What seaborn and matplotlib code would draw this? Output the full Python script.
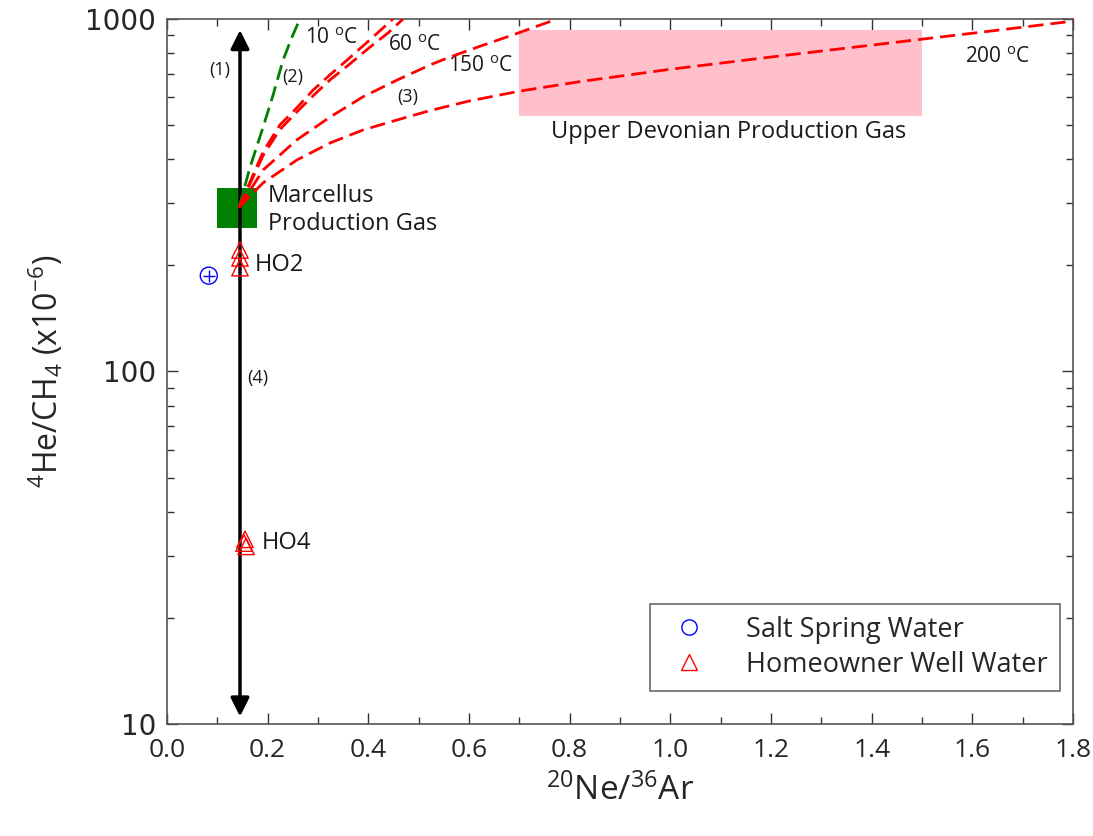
import numpy as np
import pandas as pd
import seaborn as sns
import matplotlib
matplotlib.use("Agg")
import matplotlib.pyplot as plt
from matplotlib.ticker import FixedLocator, NullFormatter, LogLocator, MultipleLocator
from matplotlib.lines import Line2D

# ---------------- data ----------------
marcellus_x = [0.14]
marcellus_y = [290]

salt_x = [0.083]
salt_y = [187]

ho2_x = [0.145, 0.145, 0.145]
ho2_y = [221, 210, 197]
ho4_x = [0.155, 0.153, 0.157]
ho4_y = [33.4, 32.6, 31.9]

green_x = [0.143, 0.165, 0.191, 0.211, 0.230, 0.247, 0.264]
green_y = [292, 380, 494, 610, 760, 880, 1000]

red_a_x = [0.143, 0.191, 0.224, 0.258, 0.290, 0.324, 0.358, 0.400, 0.449]
red_a_y = [292, 420, 500, 560, 628, 695, 765, 865, 1000]

red_b_x = [0.143, 0.191, 0.224, 0.258, 0.290, 0.324, 0.358, 0.400, 0.440, 0.469]
red_b_y = [292, 410, 485, 545, 605, 672, 735, 825, 915, 1000]

red_c_x = [0.143, 0.191, 0.258, 0.324, 0.389, 0.457, 0.523, 0.556, 0.620, 0.687, 0.775]
red_c_y = [292, 373, 454, 527, 601, 671, 741, 774, 835, 901, 1000]

red_d_x = [0.143, 0.191, 0.258, 0.324, 0.389, 0.457, 0.523, 0.600, 0.700, 0.820,
           1.000, 1.200, 1.400, 1.600, 1.800]
red_d_y = [292, 343, 398, 445, 484, 517, 550, 585, 624, 664,
           720, 780, 843, 911, 986]

box_x = [0.70, 1.50]
box_y = [530, 930]

arrow_x = 0.145
arrow_y = [10.5, 930]

# ---------------- style ----------------
sns.set_theme(style="ticks")
plt.rcParams['font.family'] = ['Open Sans', 'DejaVu Sans']
plt.rcParams['mathtext.fontset'] = 'custom'
plt.rcParams['mathtext.rm'] = 'Open Sans'
plt.rcParams['mathtext.it'] = 'Open Sans'

fig = plt.figure(figsize=(10.93, 8.36), dpi=100)
ax = fig.add_axes([0.1528, 0.134, 0.8289, 0.8433])

# pink box
ax.fill_between(box_x, [box_y[0]] * 2, [box_y[1]] * 2, color='#ffc0cb', lw=0, zorder=1)

dash = (0, (5.5, 2.5))
lw = 2.0
for xs, ys, c in [(green_x, green_y, 'green'),
                  (red_a_x, red_a_y, 'red'),
                  (red_b_x, red_b_y, 'red'),
                  (red_c_x, red_c_y, 'red'),
                  (red_d_x, red_d_y, 'red')]:
    sns.lineplot(x=xs, y=ys, ax=ax, color=c, linewidth=lw, linestyle=dash,
                 sort=False, estimator=None, zorder=4)

# vertical double arrow
ax.annotate('', xy=(arrow_x, arrow_y[1]), xytext=(arrow_x, arrow_y[0]),
            arrowprops=dict(arrowstyle='<|-|>', color='black', lw=2.5,
                            mutation_scale=28, shrinkA=0, shrinkB=0), zorder=3)

# Marcellus square
sns.scatterplot(x=marcellus_x, y=marcellus_y, ax=ax, marker='s', s=830,
                color='green', edgecolor='none', linewidth=0, zorder=2)

# Salt spring water
sns.scatterplot(x=salt_x, y=salt_y, ax=ax, marker='o', s=150,
                facecolors='none', edgecolor='blue', linewidth=1.0, zorder=5)
sns.scatterplot(x=salt_x, y=salt_y, ax=ax, marker='+', s=70,
                color='blue', linewidth=1.0, zorder=5)

# Homeowner wells
sns.scatterplot(x=ho2_x + ho4_x, y=ho2_y + ho4_y, ax=ax, marker='^', s=140,
                facecolors='none', edgecolor='red', linewidth=1.0, zorder=5)

# ---------------- axes ----------------
ax.set_xlim(0, 1.8)
ax.set_yscale('log')
ax.set_ylim(10, 1000)
ax.xaxis.set_major_locator(MultipleLocator(0.2))
ax.xaxis.set_minor_locator(MultipleLocator(0.1))
ax.set_xticklabels([f"{v:.1f}" for v in ax.get_xticks()])
ax.yaxis.set_major_locator(FixedLocator([10, 100, 1000]))
ax.yaxis.set_minor_locator(LogLocator(base=10, subs=np.arange(2, 10)))
ax.yaxis.set_minor_formatter(NullFormatter())
ax.set_yticklabels(['10', '100', '1000'], family='DejaVu Sans')
ax.tick_params(which='both', direction='in', top=True, right=True, color='#333333')
ax.tick_params(which='major', length=8, width=1)
ax.tick_params(which='minor', length=5, width=1)
ax.tick_params(axis='x', labelsize=19, pad=10)
ax.tick_params(axis='y', labelsize=20, pad=8)
for s in ax.spines.values():
    s.set_color('#555555')
    s.set_linewidth(1.2)

ax.set_xlabel(r'$^{20}$Ne/$^{36}$Ar', fontsize=24, labelpad=8)
ax.set_ylabel(r'$^{4}$He/CH$_{4}$ (x10$^{-6}$)', fontsize=23, labelpad=14)

# ---------------- annotations ----------------
tk = dict(color='#1a1a1a')
ax.text(0.274, 883, r'10 $^{\mathrm{o}}$C', fontsize=15, va='center', ha='left', **tk)
ax.text(0.440, 843, r'60 $^{\mathrm{o}}$C', fontsize=15, va='center', ha='left', **tk)
ax.text(0.558, 731, r'150 $^{\mathrm{o}}$C', fontsize=15, va='center', ha='left', **tk)
ax.text(1.585, 780, r'200 $^{\mathrm{o}}$C', fontsize=15, va='center', ha='left', **tk)
ax.text(0.105, 716, '(1)', fontsize=13, va='center', ha='center', **tk)
ax.text(0.250, 684, '(2)', fontsize=13, va='center', ha='center', **tk)
ax.text(0.479, 601, '(3)', fontsize=13, va='center', ha='center', **tk)
ax.text(0.181, 96, '(4)', fontsize=13, va='center', ha='center', **tk)
ax.text(0.200, 287, 'Marcellus\nProduction Gas', fontsize=17, va='center', ha='left',
        linespacing=1.25, **tk)
ax.text(1.115, 478, 'Upper Devonian Production Gas', fontsize=17, va='center', ha='center', **tk)
ax.text(0.175, 200, 'HO2', fontsize=17, va='center', ha='left', **tk)
ax.text(0.189, 32.6, 'HO4', fontsize=17, va='center', ha='left', **tk)

handles = [Line2D([], [], marker='o', color='none', markeredgecolor='blue',
                  markerfacecolor='none', markersize=11, linestyle='none'),
           Line2D([], [], marker='^', color='none', markeredgecolor='red',
                  markerfacecolor='none', markersize=11, linestyle='none')]
leg = ax.legend(handles, ['Salt Spring Water', 'Homeowner Well Water'],
                loc='lower right', bbox_to_anchor=(0.9857, 0.047), fontsize=19.5,
                frameon=True, fancybox=False, edgecolor='#444444',
                handletextpad=1.1, borderpad=0.45, labelspacing=0.25,
                borderaxespad=0)
leg.get_frame().set_linewidth(1.2)

fig.savefig('out.png', dpi=100)
